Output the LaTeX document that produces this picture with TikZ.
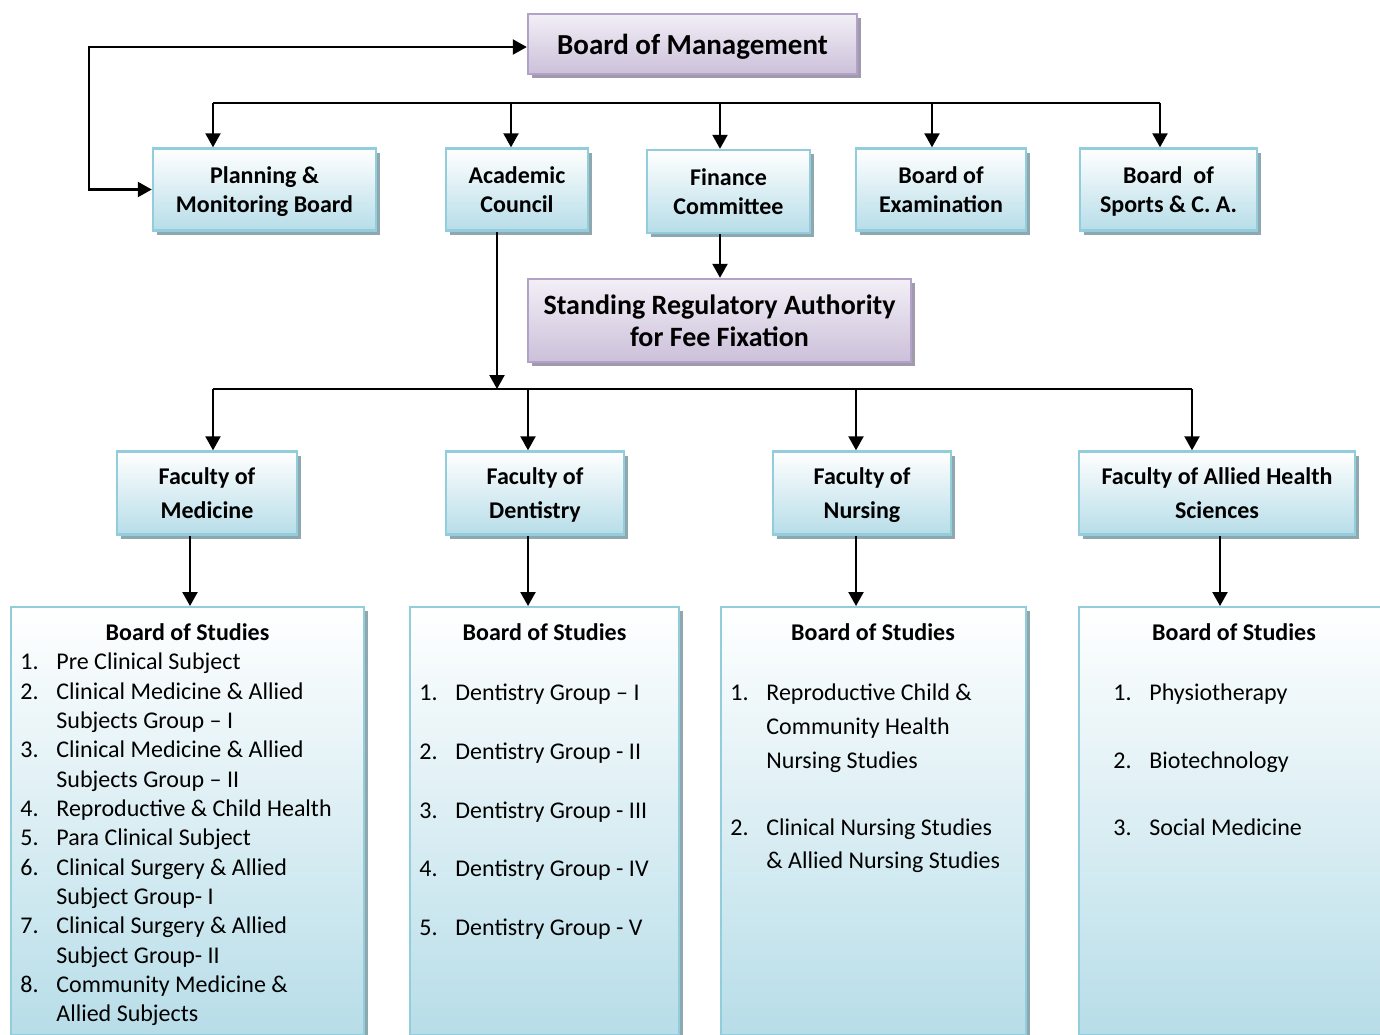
\documentclass[tikz,border=0pt]{standalone}
\usepackage{fontspec}
\setmainfont{Carlito}
\usetikzlibrary{arrows.meta,shadows}

\definecolor{boxline}{HTML}{92CDDC}
\definecolor{boxfill}{HTML}{B7DDE8}
\definecolor{boxshade}{HTML}{8FA8B0}
\definecolor{pline}{HTML}{B3A2C7}
\definecolor{ptop}{HTML}{F2EFF6}
\definecolor{pfill}{HTML}{CCC0DA}
\definecolor{pshade}{HTML}{A199AC}

\tikzset{
	card/.style={line width=1.2pt, align=center, inner sep=0pt, text depth=0pt, font=\bfseries\fontsize{12pt}{14.5pt}\selectfont},
	box/.style={card, draw=boxline, top color=white, bottom color=boxfill,
		drop shadow={shadow xshift=2pt, shadow yshift=-2pt, fill=boxshade, opacity=1}},
	pbox/.style={card, draw=pline, top color=ptop, bottom color=pfill,
		drop shadow={shadow xshift=2pt, shadow yshift=-2pt, fill=pshade, opacity=1}},
	fac/.style={box, minimum height=41.5pt, font=\bfseries\fontsize{12pt}{17pt}\selectfont},
	bos/.style={box, anchor=north, minimum height=214pt},
	arr/.style={-{Triangle[length=7pt,width=7.5pt]}, line width=1.1pt},
	both/.style={{Triangle[length=7pt,width=7.5pt]}-{Triangle[length=7pt,width=7.5pt]}, line width=1.1pt},
	head/.style={font=\bfseries\fontsize{12pt}{14.5pt}\selectfont, anchor=base, inner sep=0pt},
	item/.style={font=\fontsize{12pt}{14.5pt}\selectfont, anchor=base west, inner sep=0pt},
}

\begin{document}
\begin{tikzpicture}[x=0.5pt,y=-0.5pt]
	\useasboundingbox (0,0) rectangle (1380,1034);
	\clip (0,0) rectangle (1380,1034);

	% top level
	\node (bom) [pbox, minimum width=164.5pt, minimum height=30pt, font=\bfseries\fontsize{14.5pt}{17pt}\selectfont] at (692.5,44) {Board of Management};
	\node (plan) [box, minimum width=111.5pt, minimum height=41pt] at (264.5,189.5) {Planning \&\\Monitoring Board};
	\node (acad) [box, minimum width=71pt, minimum height=41pt] at (517,189.5) {Academic\\Council};
	\node (fin) [box, minimum width=81.5pt, minimum height=41.5pt] at (728.5,191.5) {Finance\\Committee};
	\node (exam) [box, minimum width=85pt, minimum height=41pt] at (941,189.5) {Board of\\Examination};
	\node (sport) [box, minimum width=88.5pt, minimum height=41pt] at (1168.5,189.5) {Board~ of\\Sports \& C. A.};
	\node (sra) [pbox, minimum width=191.5pt, minimum height=41.5pt, font=\bfseries\fontsize{14pt}{16pt}\selectfont] at (719.5,320.5) {Standing Regulatory Authority\\for Fee Fixation};

	% faculties
	\node (fmed) [fac, minimum width=90pt] at (207,493) {Faculty of\\Medicine};
	\node (fdent) [fac, minimum width=89pt] at (535,493) {Faculty of\\Dentistry};
	\node (fnurs) [fac, minimum width=89pt] at (862,493) {Faculty of\\Nursing};
	\node (fahs) [fac, minimum width=138pt] at (1217,493) {Faculty of Allied Health\\Sciences};

	% boards of studies
	\node (medbos) [bos, minimum width=176.5pt] at (187.5,606) {};
	\node (dentbos) [bos, minimum width=134.5pt] at (544.5,606) {};
	\node (nursbos) [bos, minimum width=152.5pt] at (873.5,606) {};
	\node (ahsbos) [bos, minimum width=160.5pt] at (1239.5,606) {};

	% connectors
	\coordinate (loop) at (89,120);
	\draw[both] (plan.west) -| (loop) |- ([yshift=-1.5pt]bom.west);

	\coordinate (topL) at (213,103);
	\coordinate (topR) at (1160,103);
	\draw[line width=1.1pt] (topL) -- (topR);
	\foreach \x/\n in {213/plan,511/acad,720/fin,932/exam,1160/sport}
		\draw[arr] (\x,0 |- topL) -- (\x,0 |- \n.north);

	\draw[arr] (720,0 |- fin.south) -- (720,0 |- sra.north);

	\coordinate (midL) at (213,389);
	\coordinate (midR) at (1192,389);
	\draw[arr] (497,0 |- acad.south) -- (497,0 |- midL);
	\draw[line width=1.1pt] (midL) -- (midR);
	\foreach \x/\n in {213/fmed,528/fdent,856/fnurs,1192/fahs}
		\draw[arr] (\x,0 |- midL) -- (\x,0 |- \n.north);
	\foreach \x/\n/\m in {190/fmed/medbos,528/fdent/dentbos,856/fnurs/nursbos,1220/fahs/ahsbos}
		\draw[arr] (\x,0 |- \n.south) -- (\x,0 |- \m.north);

	% lists
	\node (medhd) [head] at (187.5,640) {Board of Studies};
	\foreach \n/\y/\t [count=\i] in {1./669/Pre Clinical Subject, 2./699/Clinical Medicine \& Allied,
		/728/Subjects Group – I, 3./757/Clinical Medicine \& Allied, /787/Subjects Group – II,
		4./816/Reproductive \& Child Health, 5./845/Para Clinical Subject, 6./875/Clinical Surgery \& Allied,
		/904/Subject Group- I, 7./933/Clinical Surgery \& Allied, /963/Subject Group- II,
		8./992/Community Medicine \&, /1021/Allied Subjects} {
		\node (mednum\i) [item] at (20,\y) {\n};
		\node (med\i) [item] at (56,\y) {\t};
	}

	\node (denthd) [head] at (544.5,640) {Board of Studies};
	\foreach \n/\y/\t [count=\i] in {1./700/Dentistry Group – I, 2./759/Dentistry Group - II,
		3./818/Dentistry Group - III, 4./876/Dentistry Group - IV, 5./935/Dentistry Group - V} {
		\node (dentnum\i) [item] at (419,\y) {\n};
		\node (dent\i) [item] at (455,\y) {\t};
	}

	\node (nurshd) [head] at (873,640) {Board of Studies};
	\foreach \n/\y/\t [count=\i] in {1./700/Reproductive Child \&, /734/Community Health,
		/768/Nursing Studies, 2./835/Clinical Nursing Studies, /868/\& Allied Nursing Studies} {
		\node (nursnum\i) [item] at (730,\y) {\n};
		\node (nurs\i) [item] at (766,\y) {\t};
	}

	\node (ahshd) [head] at (1234,640) {Board of Studies};
	\foreach \n/\y/\t [count=\i] in {1./700/Physiotherapy, 2./768/Biotechnology, 3./835/Social Medicine} {
		\node (ahsnum\i) [item] at (1113,\y) {\n};
		\node (ahs\i) [item] at (1149,\y) {\t};
	}
\end{tikzpicture}
\end{document}
